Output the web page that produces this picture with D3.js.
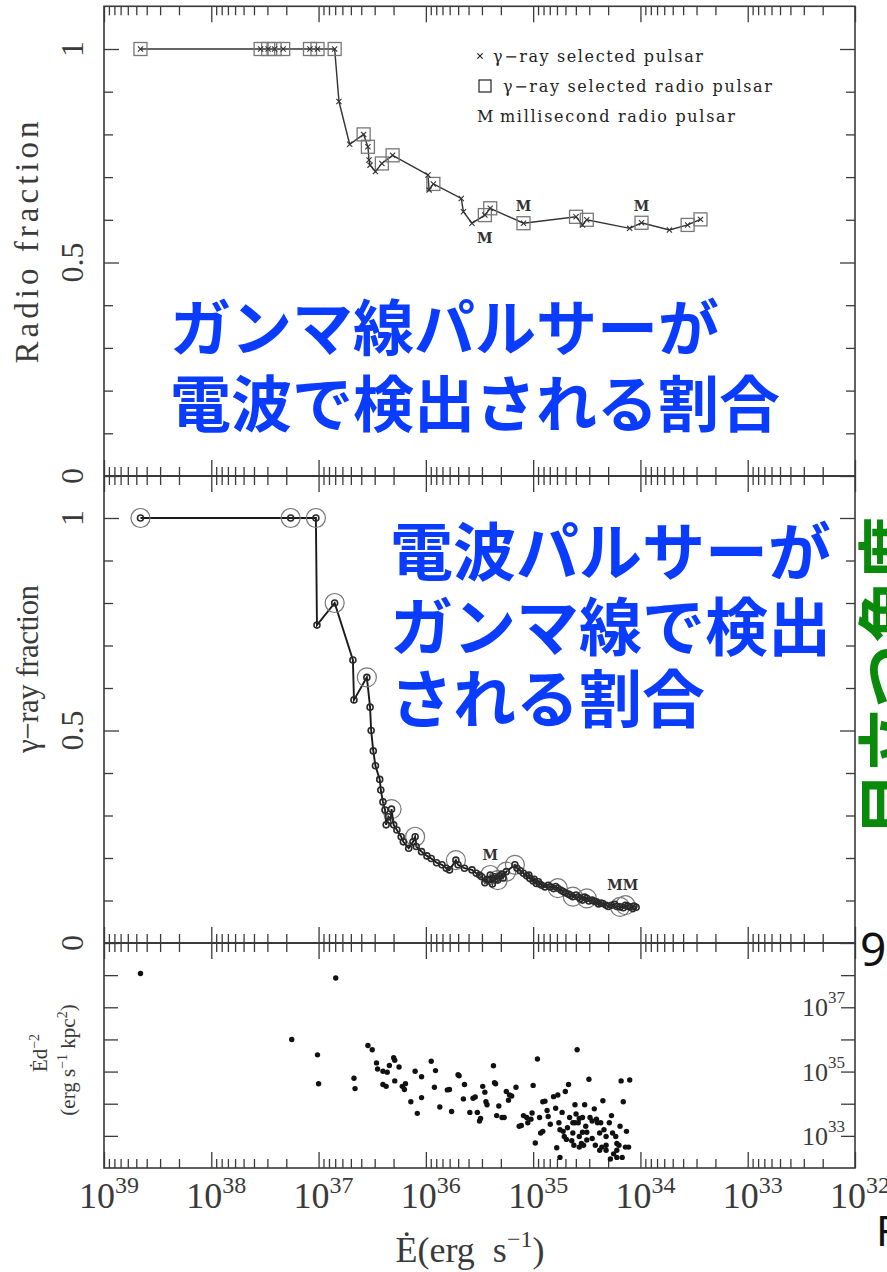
<!DOCTYPE html>
<html>
<head>
<meta charset="utf-8">
<script src="https://cdn.jsdelivr.net/npm/d3@7"></script>
<style>
  body { margin: 0; background: #fff; }
  svg { display: block; }
</style>
</head>
<body>
<svg id="fig" width="887" height="1272"></svg>
<script>
// ---------- data ----------
// Radio fraction of gamma-ray selected pulsars, sorted by decreasing spin-down power
const radioLogE = [38.66, 37.54, 37.47, 37.41, 37.33, 37.08, 37.01, 36.85, 36.81, 36.71,
                   36.58, 36.54, 36.53, 36.52, 36.47, 36.41, 36.31, 35.98, 35.97, 35.93,
                   35.67, 35.65, 35.57, 35.45, 35.40, 35.09, 34.60, 34.54, 34.50, 34.10,
                   33.99, 33.73, 33.56, 33.44];
const radioFrac = [1, 1, 1, 1, 1, 1, 1, 1, 0.877, 0.777,
                   0.800, 0.771, 0.740, 0.728, 0.713, 0.732, 0.751, 0.705, 0.670, 0.684,
                   0.650, 0.619, 0.592, 0.611, 0.627, 0.592, 0.607, 0.588, 0.600, 0.580,
                   0.593, 0.576, 0.588, 0.601];
// 1 = also detected as a radio pulsar (boxed)
const radioDetected = [1, 1, 1, 1, 1, 1, 1, 1, 0, 0,
                       1, 1, 0, 0, 0, 1, 1, 0, 0, 1,
                       0, 0, 0, 1, 1, 1, 1, 0, 1, 0,
                       1, 0, 1, 1];
const radioMspIndex = [23, 25, 30];
const radioMspBelow = [true, false, false];

// Gamma-ray detected fraction of radio pulsars
const gammaLogE = [38.66, 37.26, 37.025, 37.015, 36.85, 36.68, 36.67, 36.55, 36.52, 36.51,
                   36.49, 36.47, 36.43, 36.42, 36.40, 36.38, 36.37, 36.35, 36.33, 36.32,
                   36.30, 36.27, 36.23, 36.21, 36.16, 36.12, 36.10, 36.09, 36.04, 35.99,
                   35.95, 35.90, 35.85, 35.81, 35.78, 35.72, 35.70, 35.64, 35.57, 35.53,
                   35.50, 35.48, 35.45, 35.43, 35.42, 35.40, 35.38, 35.36, 35.34, 35.33,
                   35.31, 35.29, 35.28, 35.25, 35.17, 35.15, 35.12, 35.09, 35.06, 35.04,
                   35.03, 35.00, 34.99, 34.97, 34.95, 34.94, 34.92, 34.89, 34.86, 34.84,
                   34.81, 34.79, 34.77, 34.74, 34.72, 34.70, 34.67, 34.65, 34.63, 34.60,
                   34.58, 34.56, 34.54, 34.52, 34.50, 34.48, 34.45, 34.43, 34.41, 34.39,
                   34.37, 34.35, 34.32, 34.30, 34.27, 34.24, 34.22, 34.19, 34.16, 34.14,
                   34.12, 34.10, 34.07, 34.06, 34.04];
const gammaFrac = [1.000, 1.000, 1.000, 0.748, 0.800, 0.666, 0.572, 0.625, 0.555, 0.500,
                   0.452, 0.417, 0.385, 0.360, 0.332, 0.313, 0.278, 0.297, 0.289, 0.315,
                   0.278, 0.266, 0.250, 0.238, 0.223, 0.238, 0.250, 0.227, 0.215, 0.205,
                   0.199, 0.189, 0.184, 0.176, 0.172, 0.195, 0.184, 0.176, 0.172, 0.164,
                   0.160, 0.156, 0.142, 0.150, 0.148, 0.160, 0.139, 0.156, 0.152, 0.148,
                   0.158, 0.162, 0.153, 0.168, 0.184, 0.176, 0.170, 0.164, 0.158, 0.160,
                   0.152, 0.146, 0.150, 0.140, 0.144, 0.139, 0.136, 0.132, 0.136, 0.132,
                   0.128, 0.133, 0.129, 0.124, 0.121, 0.118, 0.115, 0.112, 0.109, 0.113,
                   0.108, 0.104, 0.101, 0.108, 0.105, 0.099, 0.101, 0.098, 0.097, 0.092,
                   0.094, 0.093, 0.089, 0.086, 0.089, 0.091, 0.086, 0.085, 0.083, 0.089,
                   0.087, 0.085, 0.081, 0.087, 0.084];
// 1 = gamma-ray pulsar (circled)
const gammaDetected = [1, 1, 1, 0, 1, 0, 0, 1, 0, 0,
                       0, 0, 0, 0, 0, 0, 0, 0, 0, 1,
                       0, 0, 0, 0, 0, 0, 1, 0, 0, 0,
                       0, 0, 0, 0, 0, 1, 0, 0, 0, 0,
                       0, 0, 0, 0, 0, 1, 0, 0, 0, 1,
                       0, 0, 0, 1, 1, 0, 0, 0, 0, 0,
                       0, 0, 0, 0, 0, 0, 0, 0, 0, 0,
                       0, 0, 1, 0, 0, 0, 0, 0, 1, 0,
                       0, 0, 0, 0, 1, 0, 0, 0, 0, 0,
                       0, 0, 0, 0, 0, 0, 0, 1, 0, 1,
                       0, 0, 0, 0, 0];
// millisecond pulsars: labelled groups (log Edot of members)
const gammaMspGroups = [[35.40], [34.19, 34.14]];

// Edot / d^2 of radio pulsars (log10 erg s^-1 and log10 erg s^-1 kpc^-2)
const fluxLogE = [38.66, 36.84, 37.25, 37.01, 37.00, 36.67, 36.66, 36.54, 36.50, 36.46,
                  36.45, 36.40, 36.36, 36.34, 36.30, 36.29, 36.25, 36.40, 36.37, 36.29,
                  36.22, 36.20, 36.19, 36.14, 36.08, 36.10, 36.04, 36.04, 35.95, 35.91,
                  35.92, 35.87, 35.80, 35.78, 35.76, 35.70, 35.69, 35.64, 35.65, 35.59,
                  35.56, 35.54, 35.52, 35.50, 35.49, 35.47, 35.45, 35.44, 35.43, 35.37,
                  35.36, 35.35, 35.34, 35.32, 35.29, 35.27, 35.25, 35.23, 35.22, 35.20,
                  35.16, 35.13, 35.11, 35.09, 35.06, 35.05, 35.02, 35.01, 35.00, 34.98,
                  34.96, 34.94, 34.93, 34.91, 34.91, 34.89, 34.87, 34.86, 34.84, 34.81,
                  34.79, 34.78, 34.77, 34.76, 34.75, 34.75, 34.73, 34.72, 34.71, 34.70,
                  34.69, 34.67, 34.66, 34.64, 34.63, 34.62, 34.61, 34.60, 34.59, 34.58,
                  34.57, 34.57, 34.55, 34.54, 34.53, 34.52, 34.51, 34.50, 34.48, 34.47,
                  34.45, 34.43, 34.42, 34.41, 34.40, 34.38, 34.37, 34.36, 34.35, 34.34,
                  34.32, 34.32, 34.29, 34.28, 34.27, 34.26, 34.25, 34.23, 34.22, 34.22,
                  34.20, 34.19, 34.18, 34.17, 34.16, 34.14, 34.13, 34.11, 34.10, 34.68,
                  34.61, 34.54, 34.50, 34.57, 34.45, 34.38, 34.32, 34.22, 34.63];
const fluxLogF = [38.05, 37.91, 36.00, 35.52, 34.62, 34.79, 34.47, 35.81, 35.68, 35.27,
                  35.08, 35.01, 34.98, 35.19, 35.43, 35.35, 35.14, 34.60, 34.54, 34.71,
                  34.54, 34.44, 34.62, 34.06, 33.70, 35.01, 34.84, 34.19, 35.32, 35.03,
                  34.51, 33.90, 34.43, 34.44, 33.76, 34.90, 34.87, 34.60, 34.15, 33.73,
                  34.17, 34.21, 33.73, 33.46, 33.54, 34.54, 34.36, 34.06, 33.97, 35.18,
                  34.65, 34.62, 33.63, 33.93, 33.57, 33.57, 34.38, 34.11, 34.27, 34.24,
                  34.51, 33.30, 33.32, 33.63, 33.57, 33.41, 33.52, 33.71, 34.57, 32.78,
                  35.39, 33.57, 33.09, 33.14, 34.06, 34.08, 33.79, 33.60, 33.36, 34.22,
                  33.86, 32.63, 34.27, 33.41, 32.33, 33.19, 33.73, 33.14, 32.98, 34.38,
                  32.89, 34.60, 33.57, 32.85, 33.09, 32.71, 33.97, 33.68, 35.68, 33.41,
                  32.98, 33.54, 32.76, 33.11, 32.71, 33.97, 33.30, 33.11, 34.76, 33.57,
                  32.92, 33.84, 32.71, 33.52, 33.41, 32.55, 33.41, 32.65, 34.09, 33.19,
                  32.55, 32.98, 33.41, 32.28, 33.63, 33.09, 32.44, 32.98, 32.76, 32.33,
                  32.71, 33.30, 34.71, 32.33, 34.06, 32.65, 33.14, 32.65, 34.74, 33.25,
                  33.41, 33.57, 32.87, 32.65, 33.46, 33.09, 32.71, 32.55, 33.41];

// axis decades
const xDecades = [39, 38, 37, 36, 35, 34, 33, 32];
const fluxLabelDecades = [37, 35, 33];
const fluxTickDecades = [38, 37, 36, 35, 34, 33];
const fracMajor = [0, 0.5, 1];
const fracLabels = ["0", "0.5", "1"];

// ---------- layout ----------
const svg = d3.select("#fig");
const X0 = 104, X1 = 855;
const x = d3.scaleLog().domain([1e39, 1e32]).range([X0, X1]);
const yR = d3.scaleLinear().domain([0, 1]).range([476, 49]);
const yG = d3.scaleLinear().domain([0, 1]).range([943, 518]);
const yF = d3.scaleLog().domain([1e32, 1e39]).range([1168, 943]);
const TOP = yR(1.1);
const INK = "#3a3a3a";
const SERIF = "'Liberation Serif', 'Times New Roman', serif";
const LEG = "'DejaVu Serif', serif";

const ex = v => x(Math.pow(10, v));

// ---------- frame ----------
svg.append("rect")
  .attr("x", X0).attr("y", TOP).attr("width", X1 - X0).attr("height", yF.range()[0] - TOP)
  .attr("fill", "none").attr("stroke", INK).attr("stroke-width", 1.6);
[yR(0), yG(0)].forEach(yy => {
  svg.append("line").attr("x1", X0).attr("x2", X1).attr("y1", yy).attr("y2", yy)
    .attr("stroke", INK).attr("stroke-width", 2.2);
});

// ---------- x ticks ----------
const xMajor = xDecades.map(d => Math.pow(10, d));
const xMinor = [];
xDecades.slice(1).forEach(d => { for (let m = 2; m <= 9; m++) xMinor.push(m * Math.pow(10, d)); });

function xTicks(yy, sign) {
  [[xMajor, 16], [xMinor, 9]].forEach(([vals, len]) => {
    const g = svg.append("g").attr("transform", `translate(0,${yy})`)
      .call(d3.axisBottom(x).tickValues(vals).tickSize(sign * len).tickFormat(""));
    g.select(".domain").remove();
    g.selectAll("line").attr("stroke", INK).attr("stroke-width", 1.3);
  });
}
xTicks(TOP, 1);
xTicks(yR(0), -1); xTicks(yR(0), 1);
xTicks(yG(0), -1); xTicks(yG(0), 1);
xTicks(yF.range()[0], -1);

// ---------- fraction y ticks ----------
const fracMinor = d3.range(0, 11).map(i => i / 10).filter(v => !fracMajor.includes(v));
function fracTicks(scale) {
  [[fracMajor, 15], [fracMinor, 9]].forEach(([vals, len]) => {
    const gl = svg.append("g").attr("transform", `translate(${X0},0)`)
      .call(d3.axisLeft(scale).tickValues(vals).tickSize(-len).tickFormat(""));
    const gr = svg.append("g").attr("transform", `translate(${X1},0)`)
      .call(d3.axisRight(scale).tickValues(vals).tickSize(-len).tickFormat(""));
    [gl, gr].forEach(g => {
      g.select(".domain").remove();
      g.selectAll("line").attr("stroke", INK).attr("stroke-width", 1.3);
    });
  });
  fracMajor.forEach((v, i) => {
    svg.append("text")
      .attr("transform", `translate(83,${scale(v)}) rotate(-90)`)
      .attr("text-anchor", "middle")
      .attr("font-family", SERIF).attr("font-size", 32).attr("fill", INK)
      .text(fracLabels[i]);
  });
}
fracTicks(yR);
fracTicks(yG);

// ---------- flux y ticks ----------
const fluxTicks = fluxTickDecades.map(d => Math.pow(10, d));
[[X0, d3.axisLeft], [X1, d3.axisRight]].forEach(([px, ax]) => {
  const g = svg.append("g").attr("transform", `translate(${px},0)`)
    .call(ax(yF).tickValues(fluxTicks).tickSize(-14).tickFormat(""));
  g.select(".domain").remove();
  g.selectAll("line").attr("stroke", INK).attr("stroke-width", 1.3);
});
fluxLabelDecades.forEach(d => {
  const t = svg.append("text")
    .attr("x", 845).attr("y", yF(Math.pow(10, d)) + 9)
    .attr("text-anchor", "end")
    .attr("font-family", SERIF).attr("font-size", 26).attr("fill", INK);
  t.append("tspan").text("10");
  t.append("tspan").attr("font-size", 17).attr("dy", -13).text(d);
});

// ---------- x tick labels ----------
xDecades.forEach(d => {
  const t = svg.append("text")
    .attr("x", x(Math.pow(10, d)) + 5).attr("y", 1208)
    .attr("text-anchor", "middle")
    .attr("font-family", SERIF).attr("font-size", 36).attr("fill", INK);
  t.append("tspan").text("10");
  t.append("tspan").attr("font-size", 24).attr("dy", -15).text(d);
});

// ---------- axis titles ----------
svg.append("text")
  .attr("transform", `translate(38,${yR(0.547)}) rotate(-90)`)
  .attr("text-anchor", "middle")
  .attr("font-family", SERIF).attr("font-size", 33).attr("fill", INK)
  .attr("textLength", 242).attr("lengthAdjust", "spacing")
  .text("Radio fraction");
svg.append("text")
  .attr("transform", `translate(38,${yG(0.645)}) rotate(-90)`)
  .attr("text-anchor", "middle")
  .attr("font-family", SERIF).attr("font-size", 31).attr("fill", INK)
  .attr("textLength", 168).attr("lengthAdjust", "spacing")
  .text("\u03b3\u2212ray fraction");

const ft1 = svg.append("text")
  .attr("transform", `translate(47,1053) rotate(-90)`)
  .attr("text-anchor", "middle")
  .attr("font-family", SERIF).attr("font-size", 21).attr("fill", INK);
ft1.append("tspan").text("\u0116d");
ft1.append("tspan").attr("font-size", 14).attr("dy", -8).text("\u22122");

const ft2 = svg.append("text")
  .attr("transform", `translate(75,1060) rotate(-90)`)
  .attr("text-anchor", "middle")
  .attr("font-family", SERIF).attr("font-size", 21).attr("fill", INK);
ft2.append("tspan").text("(erg s");
ft2.append("tspan").attr("font-size", 14).attr("dy", -8).text("\u22121");
ft2.append("tspan").attr("dy", 8).text(" kpc");
ft2.append("tspan").attr("font-size", 14).attr("dy", -8).text("2");
ft2.append("tspan").attr("dy", 8).text(")");

const xt = svg.append("text")
  .attr("x", 470).attr("y", 1262)
  .attr("text-anchor", "middle")
  .attr("font-family", SERIF).attr("font-size", 36).attr("fill", INK);
xt.append("tspan").text("\u0116(erg\u2002s");
xt.append("tspan").attr("font-size", 24).attr("dy", -15).text("\u22121");
xt.append("tspan").attr("dy", 15).text(")");

// ---------- top panel: radio fraction ----------
const radio = radioLogE.map((e, i) => ({ e, f: radioFrac[i], box: radioDetected[i] }));
svg.append("path").datum(radio)
  .attr("d", d3.line().x(d => ex(d.e)).y(d => yR(d.f)))
  .attr("fill", "none").attr("stroke", "#333").attr("stroke-width", 1.4);
svg.append("g").selectAll("rect").data(radio.filter(d => d.box)).join("rect")
  .attr("x", d => ex(d.e) - 6.5).attr("y", d => yR(d.f) - 6.5)
  .attr("width", 13).attr("height", 13)
  .attr("fill", "none").attr("stroke", "#777").attr("stroke-width", 1.3);
svg.append("g").selectAll("path").data(radio).join("path")
  .attr("transform", d => `translate(${ex(d.e)},${yR(d.f)})`)
  .attr("d", "M-2.6,-2.6L2.6,2.6M-2.6,2.6L2.6,-2.6")
  .attr("stroke", "#333").attr("stroke-width", 1.1);
radioMspIndex.forEach((idx, k) => {
  const d = radio[idx];
  svg.append("text")
    .attr("x", ex(d.e)).attr("y", yR(d.f) + (radioMspBelow[k] ? 28 : -12))
    .attr("text-anchor", "middle")
    .attr("font-family", LEG).attr("font-size", 14).attr("font-weight", "bold")
    .attr("fill", "#333").text("M");
});

// legend
svg.append("path").attr("transform", "translate(480,56)")
  .attr("d", "M-2.6,-2.6L2.6,2.6M-2.6,2.6L2.6,-2.6").attr("stroke", "#222").attr("stroke-width", 1.2);
svg.append("rect").attr("x", 479).attr("y", 80).attr("width", 12).attr("height", 12)
  .attr("fill", "none").attr("stroke", "#222").attr("stroke-width", 1.2);
svg.append("text").attr("x", 477).attr("y", 122)
  .attr("font-family", LEG).attr("font-size", 16).attr("fill", "#222").text("M");
[["\u03b3\u2212ray selected pulsar", 493, 62, 210],
 ["\u03b3\u2212ray selected radio pulsar", 503, 92, 269],
 ["millisecond radio pulsar", 500, 122, 235]].forEach(([s, lx, ly, len]) => {
  svg.append("text").attr("x", lx).attr("y", ly)
    .attr("font-family", LEG).attr("font-size", 16).attr("fill", "#222")
    .attr("textLength", len).attr("lengthAdjust", "spacing").text(s);
});

// ---------- middle panel: gamma-ray fraction ----------
const gamma = gammaLogE.map((e, i) => ({ e, f: gammaFrac[i], ring: gammaDetected[i] }));
svg.append("path").datum(gamma)
  .attr("d", d3.line().x(d => ex(d.e)).y(d => yG(d.f)))
  .attr("fill", "none").attr("stroke", "#1a1a1a").attr("stroke-width", 1.9);
svg.append("g").selectAll("circle").data(gamma.filter(d => d.ring)).join("circle")
  .attr("cx", d => ex(d.e)).attr("cy", d => yG(d.f)).attr("r", 9.5)
  .attr("fill", "none").attr("stroke", "#777").attr("stroke-width", 1.2);
svg.append("g").selectAll("circle").data(gamma).join("circle")
  .attr("cx", d => ex(d.e)).attr("cy", d => yG(d.f)).attr("r", 3.0)
  .attr("fill", "none").attr("stroke", "#2a2a2a").attr("stroke-width", 1.6);
gammaMspGroups.forEach(group => {
  const pts = group.map(v => gamma.find(d => d.e === v));
  const cx = d3.mean(pts, d => ex(d.e));
  const cy = d3.min(pts, d => yG(d.f));
  svg.append("text").attr("x", cx).attr("y", cy - 15)
    .attr("text-anchor", "middle").attr("font-family", LEG).attr("font-size", 14)
    .attr("font-weight", "bold").attr("fill", "#333").text("M".repeat(group.length));
});

// ---------- bottom panel: Edot / d^2 ----------
const flux = fluxLogE.map((e, i) => ({ e, f: fluxLogF[i] }));
svg.append("g").selectAll("circle").data(flux).join("circle")
  .attr("cx", d => ex(d.e)).attr("cy", d => yF(Math.pow(10, d.f))).attr("r", 2.7)
  .attr("fill", "#111");

// ---------- slide annotations ----------
const JP = "'Noto Sans CJK JP', sans-serif";
const BLUE = "#0a3cff";
[["ガンマ線パルサーが", 170, 351, 61], ["電波で検出される割合", 170, 427, 61],
 ["電波パルサーが", 390, 575, 63], ["ガンマ線で検出", 390, 650, 63], ["される割合", 390, 722, 63]]
  .forEach(([s, tx, ty, fs]) => {
    svg.append("text").attr("x", tx).attr("y", ty)
      .attr("font-family", JP).attr("font-weight", 700).attr("font-size", fs)
      .attr("fill", BLUE).text(s);
  });

svg.append("text")
  .attr("transform", "translate(913,836) rotate(-90)")
  .attr("font-family", JP).attr("font-weight", 700).attr("font-size", 64)
  .attr("fill", "#0a8a0a").text("目立つ角度");

svg.append("text").attr("x", 860).attr("y", 966)
  .attr("font-family", "'Noto Sans', sans-serif").attr("font-size", 46).attr("fill", "#111").text("9");
svg.append("text").attr("x", 876).attr("y", 1246)
  .attr("font-family", "'Noto Sans', sans-serif").attr("font-size", 42).attr("fill", "#111").text("F");
</script>
</body>
</html>
